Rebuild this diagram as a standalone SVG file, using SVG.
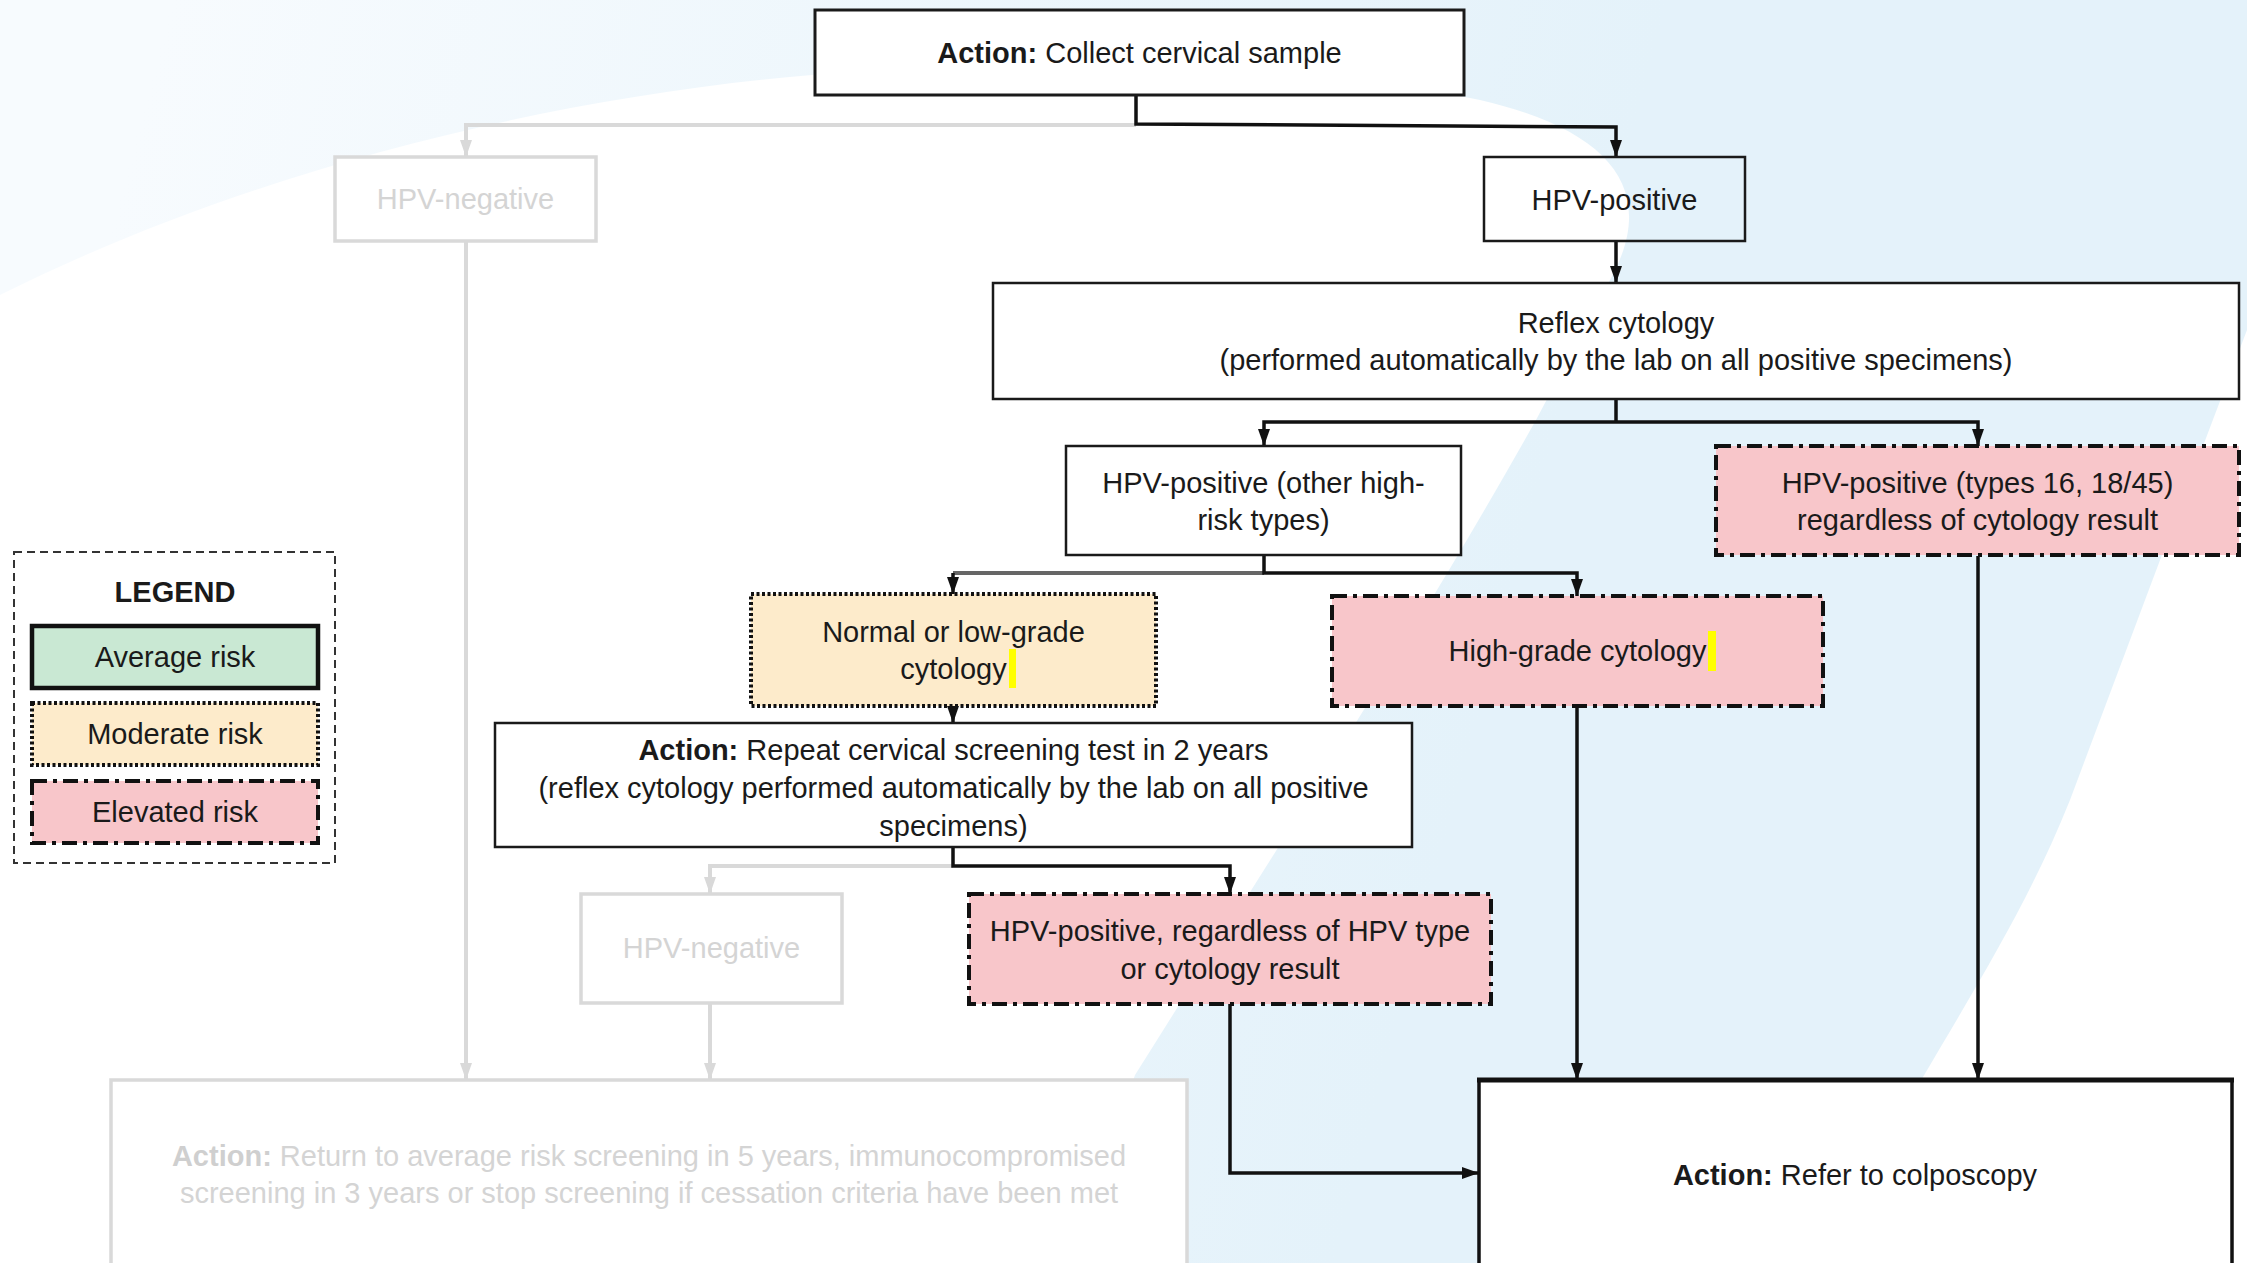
<svg xmlns="http://www.w3.org/2000/svg" width="2247" height="1263" viewBox="0 0 2247 1263">
<defs>
<linearGradient id="bg" gradientUnits="userSpaceOnUse" x1="150" y1="80" x2="1550" y2="450">
<stop offset="0" stop-color="#F7FBFE"/>
<stop offset="1" stop-color="#E4F2FA"/>
</linearGradient>
<marker id="ab" viewBox="0 0 17 12" refX="17" refY="6" markerWidth="17" markerHeight="12" markerUnits="userSpaceOnUse" orient="auto">
<path d="M0,0 L17,6 L0,12 Z" fill="#111"/>
</marker>
<marker id="ag" viewBox="0 0 17 12" refX="17" refY="6" markerWidth="17" markerHeight="12" markerUnits="userSpaceOnUse" orient="auto">
<path d="M0,0 L17,6 L0,12 Z" fill="#D9D9D9"/>
</marker>
<style>
.t{font-family:"Liberation Sans",Arial,sans-serif;font-size:29px;fill:#1a1a1a;text-anchor:middle}
.tg{fill:#D4D4D4}
.b{font-weight:bold}
.solid{fill:#fff;stroke:#1a1a1a;stroke-width:2.5}
.open{fill:none;stroke:#1a1a1a;stroke-width:2.5}
.gray{fill:#fff;stroke:#D9D9D9;stroke-width:3.5}
.elev{fill:#F8C6CA;stroke:#111;stroke-width:4;stroke-dasharray:15 6 4 6}
.mod{fill:#FDEBCB;stroke:#111;stroke-width:4;stroke-dasharray:3 2.5}
.avg{fill:#C9E8D3;stroke:#111;stroke-width:4.5}
.c{fill:none;stroke:#111;stroke-width:3.5}
.cg{fill:none;stroke:#D9D9D9;stroke-width:4}
.cd{fill:none;stroke:#666;stroke-width:4}
.hl{fill:#FFFF00}
</style>
</defs>
<rect x="0" y="0" width="2247" height="1263" fill="#fff"/>
<path d="M0,295 C250,170 560,92 850,72 C1100,55 1330,68 1480,100 C1610,130 1660,190 1610,280 L1536,420 C1430,610 1270,860 1135,1075 L1070,1263 L1850,1263 L1923,1077 C1980,980 2030,900 2070,800 C2130,640 2190,480 2247,330 V0 H0 Z" fill="url(#bg)"/>

<g id="connectors">
<path class="cg" d="M1136,125 H466 V157" marker-end="url(#ag)"/>
<path class="cg" d="M466,241 V1080" marker-end="url(#ag)"/>
<path class="cg" d="M953,866 H710 V894" marker-end="url(#ag)"/>
<path class="cg" d="M710,1003 V1080" marker-end="url(#ag)"/>
<path class="c" d="M1136,95 V124 L1616,127 V157" marker-end="url(#ab)"/>
<path class="c" d="M1616,241 V283" marker-end="url(#ab)"/>
<path class="c" d="M1616,399 V422"/>
<path class="c" d="M1616,422 H1264 V446" marker-end="url(#ab)"/>
<path class="c" d="M1616,422 H1978 V446" marker-end="url(#ab)"/>
<path class="cd" d="M1264,573 H953"/>
<path class="c" d="M1264,555 V573 H1577 V596" marker-end="url(#ab)"/>
<path class="c" d="M953,573 V594" marker-end="url(#ab)"/>
<path class="c" d="M953,706 V723" marker-end="url(#ab)"/>
<path class="c" d="M953,847 V866 H1230 V894" marker-end="url(#ab)"/>
<path class="c" d="M1230,1004 V1173 H1479" stroke-width="4" marker-end="url(#ab)"/>
<path class="c" d="M1577,706 V1080" marker-end="url(#ab)"/>
<path class="c" d="M1978,556 V1080" marker-end="url(#ab)"/>
</g>

<g id="legend">
<rect x="14" y="552" width="321" height="311" fill="none" stroke="#333" stroke-width="2" stroke-dasharray="8 5"/>
<text class="t b" x="175" y="602">LEGEND</text>
<rect class="avg" x="32" y="626" width="286" height="62"/>
<text class="t" x="175" y="667">Average risk</text>
<rect class="mod" x="32" y="703" width="286" height="62"/>
<text class="t" x="175" y="744">Moderate risk</text>
<rect class="elev" x="32" y="781" width="286" height="62"/>
<text class="t" x="175" y="822">Elevated risk</text>
</g>

<g id="collect">
<rect x="815" y="10" width="649" height="85" fill="#fff" stroke="#1a1a1a" stroke-width="3"/>
<text class="t" x="1139.5" y="63"><tspan class="b">Action:</tspan> Collect cervical sample</text>
</g>

<g id="hpv-negative-1">
<rect class="gray" x="335" y="157" width="261" height="84"/>
<text class="t tg" x="465.5" y="209">HPV-negative</text>
</g>

<g id="hpv-positive">
<rect class="open" x="1484" y="157" width="261" height="84"/>
<text class="t" x="1614.5" y="210">HPV-positive</text>
</g>

<g id="reflex">
<rect class="solid" x="993" y="283" width="1246" height="116"/>
<text class="t" x="1616" y="333">Reflex cytology</text>
<text class="t" x="1616" y="370">(performed automatically by the lab on all positive specimens)</text>
</g>

<g id="hpv-other">
<rect class="solid" x="1066" y="446" width="395" height="109"/>
<text class="t" x="1263.5" y="493">HPV-positive (other high-</text>
<text class="t" x="1263.5" y="530">risk types)</text>
</g>

<g id="hpv-16-18">
<rect class="elev" x="1716" y="446" width="523" height="109"/>
<text class="t" x="1977.5" y="493">HPV-positive (types 16, 18/45)</text>
<text class="t" x="1977.5" y="530">regardless of cytology result</text>
</g>

<g id="normal-low">
<rect class="mod" x="751" y="594" width="405" height="112"/>
<text class="t" x="953.5" y="642">Normal or low-grade</text>
<text class="t" x="953.5" y="679">cytology</text>
<rect class="hl" x="1009" y="649" width="7" height="39"/>
</g>

<g id="high-grade">
<rect class="elev" x="1332" y="596" width="491" height="110"/>
<text class="t" x="1577.5" y="661">High-grade cytology</text>
<rect class="hl" x="1708" y="631" width="8" height="40"/>
</g>

<g id="repeat">
<rect class="solid" x="495" y="723" width="917" height="124"/>
<text class="t" x="953.5" y="760"><tspan class="b">Action:</tspan> Repeat cervical screening test in 2 years</text>
<text class="t" x="953.5" y="798">(reflex cytology performed automatically by the lab on all positive</text>
<text class="t" x="953.5" y="836">specimens)</text>
</g>

<g id="hpv-negative-2">
<rect class="gray" x="581" y="894" width="261" height="109"/>
<text class="t tg" x="711.5" y="958">HPV-negative</text>
</g>

<g id="hpv-pos-regardless">
<rect class="elev" x="969" y="894" width="522" height="110"/>
<text class="t" x="1230" y="941">HPV-positive, regardless of HPV type</text>
<text class="t" x="1230" y="979">or cytology result</text>
</g>

<g id="return-average">
<rect class="gray" x="111" y="1080" width="1076" height="200" stroke-width="4"/>
<text class="t tg" x="649" y="1166"><tspan class="b" fill="#CFCFCF">Action:</tspan> Return to average risk screening in 5 years, immunocompromised</text>
<text class="t tg" x="649" y="1203">screening in 3 years or stop screening if cessation criteria have been met</text>
</g>

<g id="colposcopy">
<rect x="1479" y="1080" width="753" height="200" fill="#fff" stroke="#111" stroke-width="3.5"/>
<line x1="1477" y1="1080" x2="2234" y2="1080" stroke="#111" stroke-width="5"/>
<text class="t" x="1855" y="1185"><tspan class="b">Action:</tspan> Refer to colposcopy</text>
</g>
</svg>
